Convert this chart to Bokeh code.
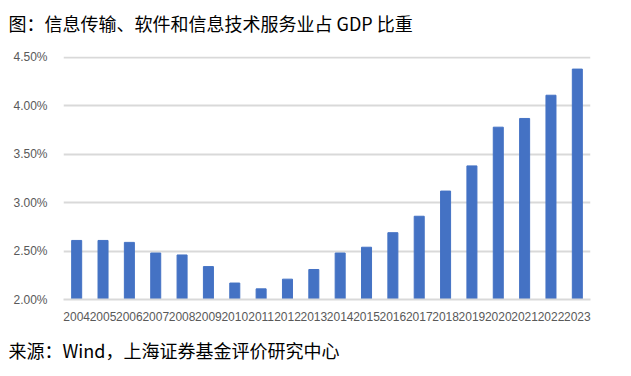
from bokeh.plotting import figure
from bokeh.models import ColumnDataSource, Title, FactorRange, Range1d, FixedTicker, CustomJSTickFormatter
from bokeh.embed import file_html
from bokeh.resources import INLINE

years = [str(y) for y in range(2004, 2024)]
share = [2.61, 2.61, 2.59, 2.48, 2.46, 2.34, 2.17, 2.11, 2.21, 2.31,
         2.48, 2.54, 2.69, 2.86, 3.12, 3.38, 3.78, 3.87, 4.11, 4.38]
y_ticks = [2.0, 2.5, 3.0, 3.5, 4.0, 4.5]
title_text = "图：信息传输、软件和信息技术服务业占 GDP 比重"
source_text = "来源：Wind，上海证券基金评价研究中心"

src = ColumnDataSource(dict(year=years, share=share))

p = figure(width=631, height=376, x_range=FactorRange(*years),
           y_range=Range1d(2.0, 4.51), output_backend="svg", toolbar_location=None,
           min_border_left=63, min_border_right=41, min_border_top=56, min_border_bottom=77)
p.outline_line_color = None
p.background_fill_color = "white"
p.border_fill_color = "white"

p.vbar(x="year", top="share", bottom=2.0, width=0.38, color="#4472C4", source=src)

p.xgrid.grid_line_color = None
p.ygrid.grid_line_color = "#d9d9d9"
p.ygrid.grid_line_width = 2
p.yaxis.ticker = FixedTicker(ticks=y_ticks)
p.yaxis.formatter = CustomJSTickFormatter(code="return tick.toFixed(2) + '%';")
p.yaxis.axis_line_color = None
p.yaxis.major_tick_line_color = None
p.yaxis.minor_tick_line_color = None
p.yaxis.major_label_standoff = 10
p.yaxis.major_label_text_font = "Liberation Sans"
p.yaxis.major_label_text_font_size = "12px"
p.yaxis.major_label_text_color = "#595959"

p.xaxis.axis_line_color = "#d9d9d9"
p.xaxis.axis_line_width = 2
p.xaxis.major_tick_line_color = None
p.xaxis.minor_tick_line_color = None
p.xaxis.major_label_standoff = 6
p.xaxis.major_label_text_font = "Liberation Sans"
p.xaxis.major_label_text_font_size = "12px"
p.xaxis.major_label_text_color = "#595959"

# spacer between the frame and the chart title
p.add_layout(Title(text=" ", text_font_size="2px", standoff=15), "above")

p.title.text = title_text
p.title.align = "left"
p.title.vertical_align = "top"
p.title.offset = -55
p.title.standoff = 0
p.title.text_font = "Noto Sans CJK SC"
p.title.text_font_size = "18px"
p.title.text_font_style = "normal"
p.title.text_color = "#000000"

p.add_layout(Title(text=source_text, align="left", offset=-55, standoff=22,
                   text_font="Noto Sans CJK SC", text_font_size="18px",
                   text_font_style="normal", text_color="#000000"), "below")

open("out.html", "w").write(file_html(p, INLINE))
